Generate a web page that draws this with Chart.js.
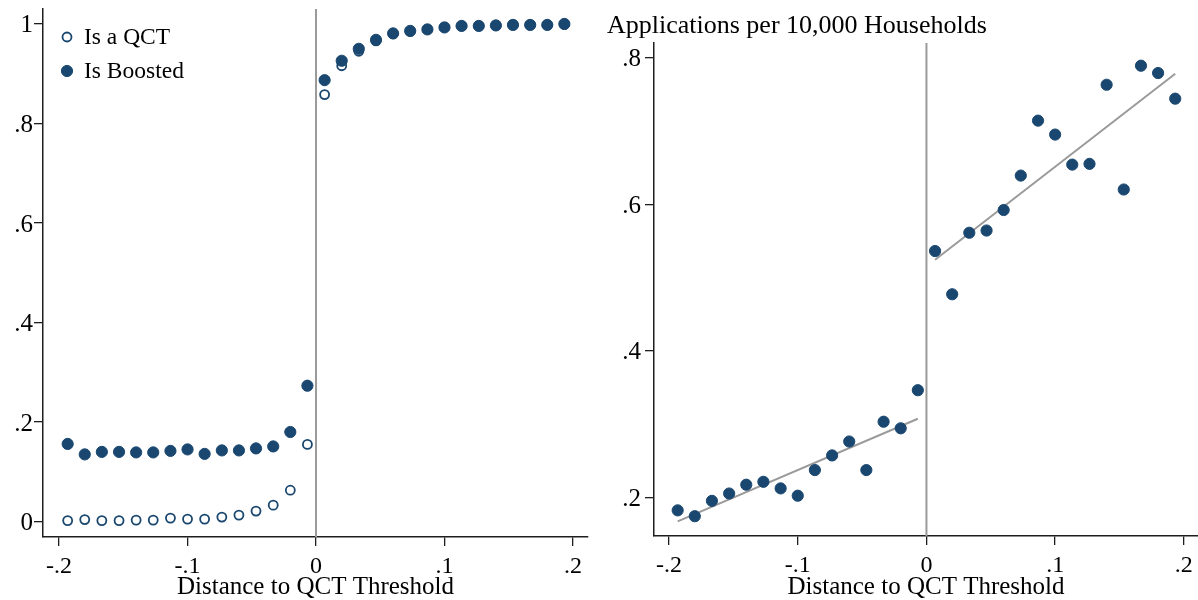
<!DOCTYPE html>
<html><head><meta charset="utf-8">
<script src="https://cdn.jsdelivr.net/npm/chart.js@4.4.1/dist/chart.umd.min.js"></script>
<style>
html,body{margin:0;padding:0;background:#fff;}
#wrap{position:relative;width:1198px;height:600px;overflow:hidden;background:#fff}
#c1{position:absolute;left:0;top:0}
#c2{position:absolute;left:600px;top:0}
</style></head><body>
<div id="wrap"><canvas id="c1" width="600" height="600"></canvas><canvas id="c2" width="598" height="600"></canvas></div>
<script>
// ---- data ----
const binCenters = [-0.1933,-0.18,-0.1667,-0.1533,-0.14,-0.1267,-0.1133,-0.1,-0.0867,-0.0733,-0.06,-0.0467,-0.0333,-0.02,-0.0067,
                    0.0067,0.02,0.0333,0.0467,0.06,0.0733,0.0867,0.1,0.1133,0.1267,0.14,0.1533,0.1667,0.18,0.1933];
const isQCT = [0.002,0.004,0.002,0.002,0.003,0.003,0.007,0.005,0.005,0.009,0.013,0.021,0.033,0.063,0.155,
               0.858,0.916,0.945,0.966,0.980,0.985,0.989,0.993,0.996,0.996,0.997,0.998,0.998,0.998,0.999];
const isBoosted = [0.156,0.135,0.140,0.140,0.139,0.139,0.142,0.145,0.136,0.143,0.143,0.147,0.151,0.180,0.273,
                   0.887,0.926,0.950,0.968,0.981,0.986,0.989,0.993,0.996,0.996,0.997,0.998,0.998,0.998,1.000];
const appsPer10k = [0.182,0.174,0.195,0.205,0.217,0.221,0.212,0.202,0.237,0.257,0.276,0.237,0.303,0.294,0.346,
                    0.536,0.477,0.561,0.564,0.592,0.639,0.714,0.695,0.654,0.655,0.763,0.620,0.789,0.779,0.744];
const fitLeftX = [-0.1933,-0.0067];
const fitLeftY = [0.167,0.307];
const fitRightX = [0.0067,0.1933];
const fitRightY = [0.524,0.778];
const threshold = 0;
const xTickValues = [-0.2,-0.1,0,0.1,0.2];
const xTickLabels = ['-.2','-.1','0','.1','.2'];
const yTickValuesL = [0,0.2,0.4,0.6,0.8,1];
const yTickLabelsL = ['0','.2','.4','.6','.8','1'];
const yTickValuesR = [0.2,0.4,0.6,0.8];
const yTickLabelsR = ['.2','.4','.6','.8'];
const legendLabels = ['Is a QCT','Is Boosted'];
const xTitle = 'Distance to QCT Threshold';
const rightTitle = 'Applications per 10,000 Households';

// ---- styles ----
const FAM = "'Liberation Serif','Times New Roman',serif";
const NAVY = '#1a476f';
const AXIS = '#1e1e1e';
const REF = '#9a9a9a';

const pts = (xs, ys) => xs.map((x,i)=>({x, y:ys[i]}));

function xScale(min,max,height,tickPad){
  return {type:'linear',min,max,
    afterBuildTicks: s => { s.ticks = xTickValues.map(v=>({value:v})); },
    afterFit: s => { s.height = height; s.paddingLeft = 0; s.paddingRight = 0; },
    ticks:{autoSkip:false,maxRotation:0,minRotation:0,padding:tickPad,color:'#000',
      font:{family:FAM,size:24},callback:(v,i)=>xTickLabels[i]},
    grid:{display:true,drawOnChartArea:false,drawTicks:true,tickLength:9,color:AXIS,lineWidth:1.3},
    border:{display:true,color:AXIS,width:1.5},
    title:{display:true,text:xTitle,color:'#000',font:{family:FAM,size:25,lineHeight:1.0},padding:{top:0,bottom:0}}
  };
}
function yScale(min,max,vals,labels,width,pad){
  return {type:'linear',min,max,
    afterBuildTicks: s => { s.ticks = vals.map(v=>({value:v})); },
    afterFit: s => { s.width = width; s.paddingTop = 0; s.paddingBottom = 0; },
    ticks:{autoSkip:false,padding:pad,labelOffset:2,color:'#000',font:{family:FAM,size:25},callback:(v,i)=>labels[i]},
    grid:{display:true,drawOnChartArea:false,drawTicks:true,tickLength:9,color:AXIS,lineWidth:1.3},
    border:{display:true,color:AXIS,width:1.5}
  };
}

const refLine = {
  id:'refLine',
  beforeDatasetsDraw(chart){
    const {ctx, chartArea:a, scales:{x}} = chart;
    const px = x.getPixelForValue(threshold);
    ctx.save(); ctx.strokeStyle = REF; ctx.lineWidth = 2;
    ctx.beginPath(); ctx.moveTo(px, a.top); ctx.lineTo(px, a.bottom); ctx.stroke(); ctx.restore();
  }
};

const stataLegend = {
  id:'stataLegend',
  afterDraw(chart){
    const {ctx, chartArea:a} = chart;
    const order = [1,0]; // dataset indices in legend order
    ctx.save();
    ctx.font = "23.5px " + FAM; ctx.textBaseline = 'middle'; ctx.textAlign = 'left';
    order.forEach((di,k)=>{
      const ds = chart.data.datasets[di];
      const y = a.top + 28 + k*34;
      ctx.fillStyle = ds.pointBackgroundColor; ctx.strokeStyle = ds.pointBorderColor; ctx.lineWidth = ds.pointBorderWidth;
      ctx.beginPath(); ctx.arc(a.left + 24, y, ds.pointRadius, 0, Math.PI*2); ctx.fill(); ctx.stroke();
      ctx.fillStyle = '#000';
      ctx.fillText(legendLabels[k], a.left + 41, y + 1);
    });
    ctx.restore();
  }
};

new Chart(document.getElementById('c1'), {
  type:'scatter',
  data:{datasets:[
    {label:legendLabels[1], data:pts(binCenters,isBoosted), order:0,
     pointRadius:5.6, pointBackgroundColor:NAVY, pointBorderColor:NAVY, pointBorderWidth:1, showLine:false},
    {label:legendLabels[0], data:pts(binCenters,isQCT), order:1,
     pointRadius:4.5, pointBackgroundColor:'#fff', pointBorderColor:NAVY, pointBorderWidth:1.8, showLine:false}
  ]},
  options:{responsive:false, animation:false, events:[],
    layout:{autoPadding:false, padding:{left:0,right:12,top:9,bottom:0}},
    plugins:{legend:{display:false}, tooltip:{enabled:false}},
    scales:{x:xScale(-0.2125,0.2117,63,6), y:yScale(-0.031,1.03,yTickValuesL,yTickLabelsL,43,1)}
  },
  plugins:[refLine, stataLegend]
});

new Chart(document.getElementById('c2'), {
  type:'scatter',
  data:{datasets:[
    {label:'Applications', data:pts(binCenters,appsPer10k), order:0,
     pointRadius:5.6, pointBackgroundColor:NAVY, pointBorderColor:NAVY, pointBorderWidth:1, showLine:false},
    {label:'Fit below', data:pts(fitLeftX,fitLeftY), order:1, showLine:true, pointRadius:0,
     borderColor:REF, borderWidth:2, fill:false},
    {label:'Fit above', data:pts(fitRightX,fitRightY), order:1, showLine:true, pointRadius:0,
     borderColor:REF, borderWidth:2, fill:false}
  ]},
  options:{responsive:false, animation:false, events:[],
    layout:{autoPadding:false, padding:{left:7,right:0,top:11,bottom:0}},
    plugins:{legend:{display:false}, tooltip:{enabled:false},
      title:{display:true, text:rightTitle, align:'start', color:'#000',
        font:{family:FAM,size:26,weight:'normal',lineHeight:1.2}, padding:{top:0,bottom:0.8}}},
    scales:{x:xScale(-0.2117,0.211,64,6), y:yScale(0.147,0.82,yTickValuesR,yTickLabelsR,47,4)}
  },
  plugins:[refLine]
});
</script>
</body></html>
